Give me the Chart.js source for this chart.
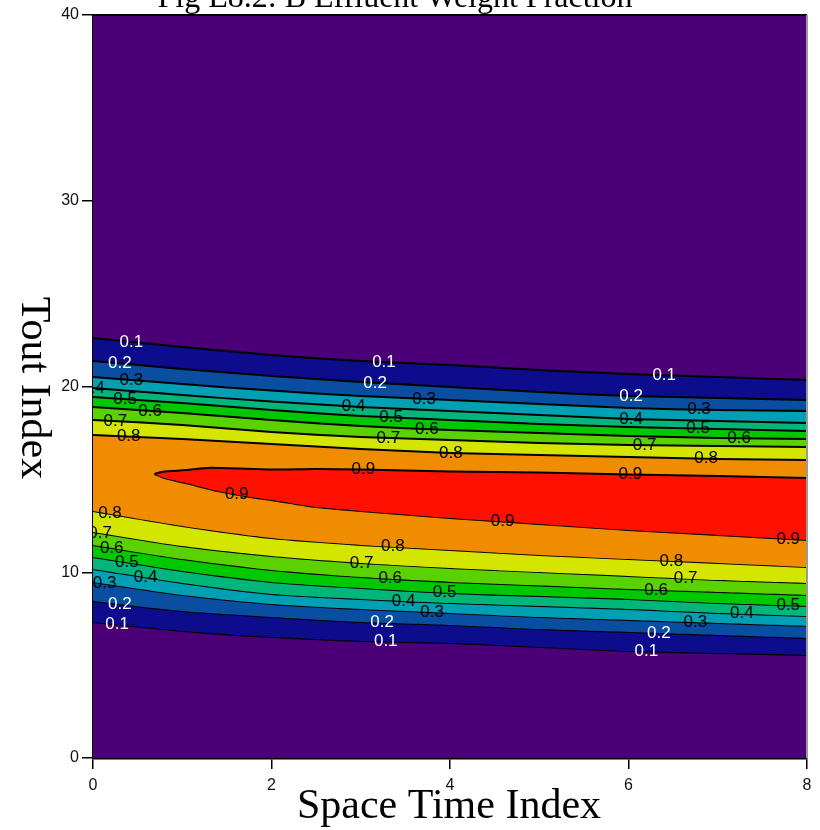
<!DOCTYPE html>
<html><head><meta charset="utf-8">
<script src="https://cdn.jsdelivr.net/npm/chart.js@4.4.0/dist/chart.umd.min.js"></script>
<style>html,body{margin:0;padding:0;background:#fff;}#wrap{width:820px;height:830px;position:relative;}</style>
</head><body><div id="wrap"><canvas id="c" width="820" height="830"></canvas></div>
<script>
// ---- data (Space Time Index on x, Tout Index on y) ----
const xGrid = [0, 1, 2, 3, 4, 5, 6, 7, 8];
const levels = ['0.1', '0.2', '0.3', '0.4', '0.5', '0.6', '0.7', '0.8'];
// upper branch of each contour level
const upper01 = [22.61, 22.13, 21.70, 21.37, 21.16, 20.89, 20.67, 20.51, 20.35];
const upper02 = [21.37, 20.94, 20.57, 20.24, 19.97, 19.70, 19.49, 19.38, 19.27];
const upper03 = [20.51, 20.13, 19.78, 19.49, 19.27, 19.06, 18.84, 18.73, 18.68];
const upper04 = [19.92, 19.54, 19.19, 18.90, 18.68, 18.47, 18.25, 18.14, 18.03];
const upper05 = [19.43, 19.11, 18.73, 18.41, 18.20, 17.98, 17.82, 17.71, 17.60];
const upper06 = [18.90, 18.57, 18.20, 17.87, 17.66, 17.50, 17.34, 17.23, 17.17];
const upper07 = [18.20, 17.93, 17.55, 17.28, 17.12, 16.96, 16.85, 16.80, 16.74];
const upper08 = [17.39, 17.17, 16.90, 16.64, 16.42, 16.31, 16.20, 16.10, 16.04];
// lower branch of each contour level
const lower01 = [7.32, 6.84, 6.51, 6.30, 6.19, 5.98, 5.76, 5.65, 5.55];
const lower02 = [8.45, 7.91, 7.59, 7.32, 7.16, 6.94, 6.78, 6.62, 6.46];
const lower03 = [9.48, 8.78, 8.29, 8.02, 7.81, 7.59, 7.43, 7.27, 7.11];
const lower04 = [10.17, 9.42, 8.83, 8.56, 8.34, 8.18, 8.02, 7.81, 7.64];
const lower05 = [10.82, 10.07, 9.48, 9.15, 8.88, 8.72, 8.56, 8.34, 8.18];
const lower06 = [11.47, 10.71, 10.12, 9.74, 9.48, 9.29, 9.10, 8.94, 8.78];
const lower07 = [12.17, 11.41, 10.87, 10.50, 10.23, 10.01, 9.80, 9.58, 9.42];
const lower08 = [13.30, 12.49, 11.84, 11.47, 11.20, 10.93, 10.71, 10.50, 10.28];
// 0.9 closed region
const redTopX = [0.69, 0.78, 1.04, 1.32, 2, 2.5, 3, 4, 5, 6, 7, 8];
const redTop = [15.29, 15.41, 15.50, 15.63, 15.53, 15.56, 15.53, 15.42, 15.37, 15.26, 15.18, 15.07];
const redBottomX = [0.69, 0.8, 1.04, 1.4, 1.76, 2, 2.5, 3, 4, 5, 6, 7, 8];
const redBottom = [15.29, 15.07, 14.80, 14.37, 14.05, 13.89, 13.51, 13.30, 12.92, 12.60, 12.27, 12.01, 11.74];
// tick labels
const xTicks = [0, 2, 4, 6, 8];
const yTicks = [0, 10, 20, 30, 40];
// contour label x positions (per level)
const upperLabelX = [[0.43, 3.26, 6.40], [0.30, 3.16, 6.03], [0.43, 3.71, 6.79], [0.0, 2.92, 6.03],
                     [0.36, 3.34, 6.78], [0.64, 3.74, 7.24], [0.25, 3.31, 6.18], [0.40, 4.01, 6.87]];
const lowerLabelX = [[0.27, 3.28, 6.20], [0.30, 3.24, 6.34], [0.13, 3.80, 6.75], [0.59, 3.48, 7.27],
                     [0.38, 3.94, 7.79], [0.21, 3.33, 6.31], [0.08, 3.01, 6.64], [0.19, 3.36, 6.48]];
const redTopLabelX = [3.03, 6.02];
const redBottomLabelX = [1.61, 4.59, 7.79];

// ---- styling ----
const bandColors = ['#4b0078', '#0c0c8c', '#0a4ea2', '#00a0b4', '#00b67a', '#00c800',
                    '#5ad200', '#d4e600', '#f08c00', '#ff1000'];
const upperSets = [upper01, upper02, upper03, upper04, upper05, upper06, upper07, upper08];
const lowerSets = [lower01, lower02, lower03, lower04, lower05, lower06, lower07, lower08];

function pts(xs, ys) { return xs.map((x, i) => ({ x: x, y: ys[i] })); }
function interp(xs, ys, x) {
  if (x <= xs[0]) return ys[0];
  for (let i = 1; i < xs.length; i++) {
    if (x <= xs[i]) { const t = (x - xs[i - 1]) / (xs[i] - xs[i - 1]); return ys[i - 1] + t * (ys[i] - ys[i - 1]); }
  }
  return ys[ys.length - 1];
}
const lineStyle = { borderColor: '#000', borderWidth: 2, pointRadius: 0, pointHoverRadius: 0, tension: 0.25, clip: 0 };

const datasets = [];
datasets.push(Object.assign({ data: pts(redTopX, redTop), fill: '+1', backgroundColor: bandColors[9] }, lineStyle));
datasets.push(Object.assign({ data: pts(redBottomX, redBottom), fill: false }, lineStyle));
for (let k = 7; k >= 0; k--) {
  datasets.push(Object.assign({ data: pts(xGrid, upperSets[k]), fill: '+1', backgroundColor: bandColors[k + 1] }, lineStyle));
  datasets.push(Object.assign({ data: pts(xGrid, lowerSets[k]), fill: false }, lineStyle));
}

const bgPlugin = {
  id: 'bg',
  beforeDraw(chart) {
    const c = chart.ctx; c.save(); c.fillStyle = '#fff'; c.fillRect(0, 0, chart.width, chart.height); c.restore();
  },
  beforeDatasetsDraw(chart) {
    const a = chart.chartArea, c = chart.ctx;
    c.save(); c.fillStyle = bandColors[0]; c.fillRect(a.left, a.top, a.right - a.left, a.bottom - a.top); c.restore();
  }
};

const labelPlugin = {
  id: 'contourLabels',
  afterDatasetsDraw(chart) {
    const a = chart.chartArea, c = chart.ctx, xs = chart.scales.x, ys = chart.scales.y;
    c.save();
    c.beginPath(); c.rect(a.left, a.top, a.right - a.left, a.bottom - a.top); c.clip();
    c.font = '17px "Liberation Sans", Arial, sans-serif';
    c.textAlign = 'center'; c.textBaseline = 'middle';
    function put(text, x, y, col) { c.fillStyle = col; c.fillText(text, xs.getPixelForValue(x), ys.getPixelForValue(y)); }
    for (let k = 0; k < 8; k++) {
      const col = k < 2 ? '#ffffff' : '#000000';
      upperLabelX[k].forEach(x => put(levels[k], x, interp(xGrid, upperSets[k], x), col));
      lowerLabelX[k].forEach(x => put(levels[k], x, interp(xGrid, lowerSets[k], x), col));
    }
    redTopLabelX.forEach(x => put('0.9', x, interp(redTopX, redTop, x), '#000'));
    redBottomLabelX.forEach(x => put('0.9', x, interp(redBottomX, redBottom, x), '#000'));
    c.restore();
  }
};

const framePlugin = {
  id: 'frame',
  afterDraw(chart) {
    const a = chart.chartArea, c = chart.ctx;
    c.save();
    c.strokeStyle = '#000'; c.lineWidth = 2;
    c.beginPath(); c.moveTo(a.left, a.top); c.lineTo(a.right, a.top); c.stroke();
    c.strokeStyle = '#9a9a9a'; c.lineWidth = 2;
    c.beginPath(); c.moveTo(a.right, a.top); c.lineTo(a.right, a.bottom); c.stroke();
    c.fillStyle = '#000';
    c.font = '32px "Liberation Serif", "Times New Roman", serif';
    c.textAlign = 'center'; c.textBaseline = 'alphabetic';
    c.fillText('Fig E8.2: B Effluent Weight Fraction', 395, 7);
    c.font = '42px "Liberation Serif", "Times New Roman", serif';
    c.fillText('Space Time Index', 449, 818);
    c.translate(22, 388); c.rotate(Math.PI / 2);
    c.fillText('Tout Index', 0, 0);
    c.restore();
  }
};

const tickFont = { family: '"Liberation Sans", Arial, sans-serif', size: 16 };
new Chart(document.getElementById('c'), {
  type: 'line',
  data: { datasets: datasets },
  options: {
    responsive: false, animation: false, devicePixelRatio: 1,
    layout: { padding: { top: 15, right: 13, left: 0, bottom: 0 } },
    plugins: { legend: { display: false }, tooltip: { enabled: false }, title: { display: false } },
    events: [],
    scales: {
      x: {
        type: 'linear', min: 0, max: 8, z: 1,
        afterBuildTicks: s => { s.ticks = xTicks.map(v => ({ value: v })); },
        afterFit: s => { s.height = 72; },
        ticks: { color: '#111', font: tickFont, padding: 7, maxRotation: 0, autoSkip: false },
        grid: { drawOnChartArea: false, drawTicks: true, tickLength: 11, color: '#000', lineWidth: 1.5 },
        border: { display: true, color: '#000', width: 2.5 }
      },
      y: {
        type: 'linear', min: 0, max: 40, z: 1,
        afterBuildTicks: s => { s.ticks = yTicks.map(v => ({ value: v })); },
        afterFit: s => { s.width = 93; },
        ticks: { color: '#111', font: tickFont, padding: 3, autoSkip: false },
        grid: { drawOnChartArea: false, drawTicks: true, tickLength: 11, color: '#000', lineWidth: 1.5 },
        border: { display: true, color: '#000', width: 2.5 }
      }
    }
  },
  plugins: [bgPlugin, labelPlugin, framePlugin]
});
</script></body></html>
